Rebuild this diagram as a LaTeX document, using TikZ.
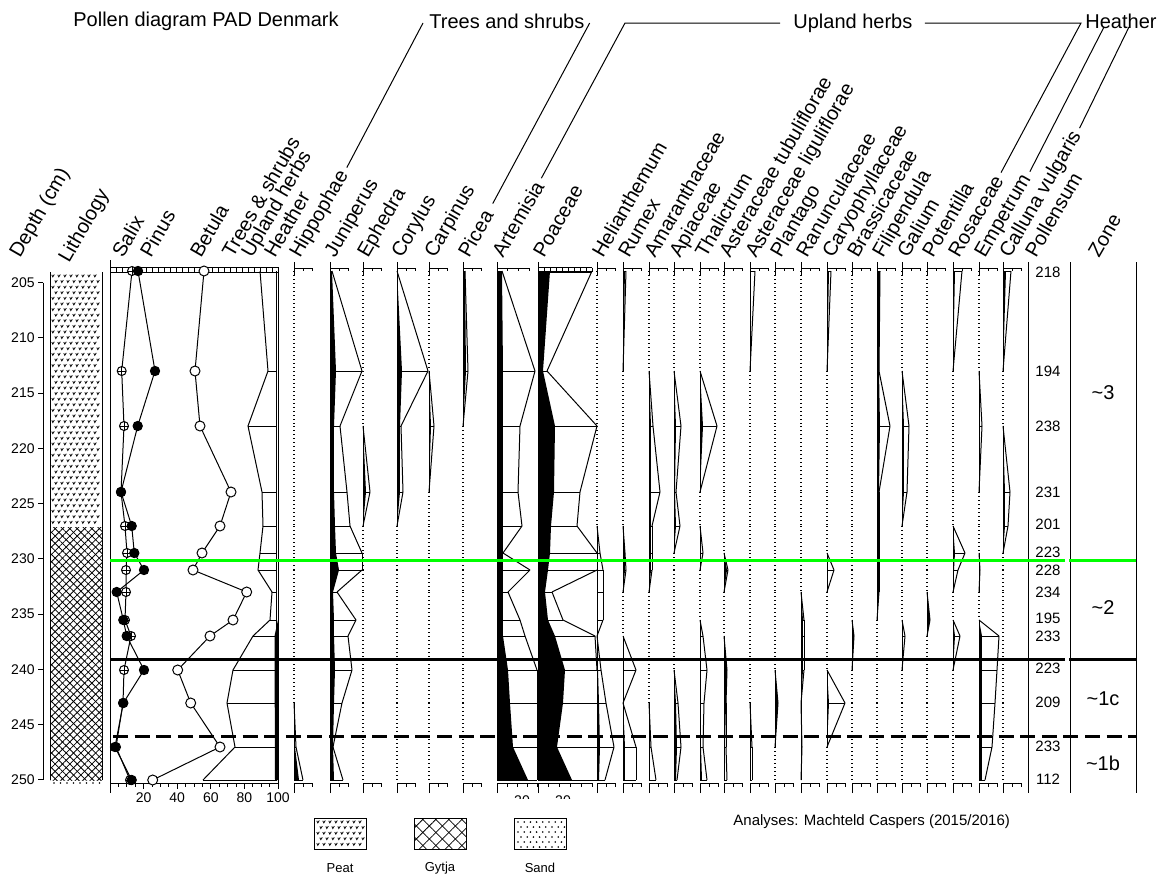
\documentclass[tikz,border=0pt]{standalone}
\usepackage{fontspec}
\setmainfont{Liberation Sans}
\usetikzlibrary{patterns.meta}
\definecolor{zgreen}{RGB}{0,255,0}
\tikzset{
  dl/.style={line width=0.5pt},
  zdots/.style={line width=0.6pt,dash pattern=on 0.5pt off 1.5pt},
  lab/.style={rotate=60,anchor=base west,inner sep=0pt,font=\fontsize{10}{12}\selectfont},
  grp/.style={anchor=west,inner sep=0pt,text height=7.5pt,text depth=2pt,font=\fontsize{10}{12}\selectfont},
  ax/.style={inner sep=0pt,font=\fontsize{7}{8}\selectfont},
  psum/.style={inner sep=0pt,font=\fontsize{7.5}{9}\selectfont},
  zonet/.style={inner sep=0pt,font=\fontsize{10}{12}\selectfont},
  legt/.style={inner sep=0pt,font=\fontsize{6.5}{8}\selectfont},
  zline/.style={line width=1.5pt},
}
\newcommand\taxcol[2]{%
  \foreach \yy/\ff/\ee [remember=\yy as \py (initially -1),
      remember=\ff as \pf (initially 0),
      remember=\ee as \pe (initially 0)] in {#2}{%
    \ifdim\py pt>0pt
      \pgfmathtruncatemacro\nz{10*(\pf+\ff+\pe+\ee)}%
      \ifnum\nz>0
        \fill (#1,\py) -- (#1+\pf,\py) -- (#1+\ff,\yy) -- (#1,\yy) -- cycle;
        \draw[dl] (#1+\pe,\py) -- (#1+\ee,\yy);
        \draw[dl] (#1,\py) -- (#1,\yy);
      \else
        \draw[zdots] (#1,\py) -- (#1,\yy);
      \fi
    \fi
    \ifdim\ee pt>0pt \draw[dl] (#1,\yy) -- (#1+\ee,\yy);\fi
  }}
\newcommand\colhead[3]{%
  \draw[dl] (#1,262) -- (#1,275) (#1,268) -- (#1+#2,268);
  \foreach \k in {1,...,#3}{\draw[dl] ({#1+\k*#2/#3},268) -- ++(0,3);}}
\newcommand\colfoot[3]{%
  \draw[dl] (#1,793) -- (#1,783) -- (#1+#2,783);
  \foreach \k in {1,...,#3}{\draw[dl] ({#1+\k*#2/#3},783) -- ++(0,4);}}
\newcommand\peatmarks[4]{%
  \foreach \r in {0,...,#4}{\foreach \c in {0,...,#3}{%
    \pgfmathsetmacro\mx{#1+\c*6+mod(\r,2)*3}%
    \pgfmathsetmacro\my{#2+\r*5.6}%
    \draw[line width=0.38pt] (\mx-1.2,\my-1.2) -- (\mx-0.2,\my+0.9) -- (\mx+1.3,\my-1.5);
  }}}
\begin{document}
\begin{tikzpicture}[x=0.5pt,y=-0.5pt]
\fill[white] (0,0) rectangle (1158,878);
\useasboundingbox (0,0) rectangle (1158,878);

% ---------- titles ----------
\node[anchor=base west,inner sep=0pt,font=\fontsize{10}{12}\selectfont] (title) at (73,26) {Pollen diagram PAD Denmark};
\node[grp] (ts) at (429,23) {Trees and shrubs};
\node[grp] (uh) at (793,23) {Upland herbs};
\node[grp] (hth) at (1085,23) {Heather};

% ---------- rotated labels ----------
\node[lab] (lDep) at (20,259) {Depth (cm)};
\node[lab] (lLit) at (69,264) {Lithology};
\node[lab] (lSal) at (123,259) {Salix};
\node[lab] (lPin) at (151,259) {Pinus};
\node[lab] (lBet) at (201,259) {Betula};
\node[lab] (lTS) at (233,259) {Trees \& shrubs};
\node[lab] (lUH) at (252,259) {Upland herbs};
\node[lab] (lHe) at (275,259) {Heather};
\node[lab] (lHip) at (300,259) {Hippophae};
\node[lab] (lJun) at (335,259) {Juniperus};
\node[lab] (lEph) at (368,259) {Ephedra};
\node[lab] (lCor) at (402,259) {Corylus};
\node[lab] (lCar) at (435,259) {Carpinus};
\node[lab] (lPic) at (469,259) {Picea};
\node[lab] (lArt) at (503,259) {Artemisia};
\node[lab] (lPoa) at (544,259) {Poaceae};
\node[lab] (lHel) at (603,259) {Helianthemum};
\node[lab] (lRum) at (629,259) {Rumex};
\node[lab] (lAma) at (655,259) {Amaranthaceae};
\node[lab] (lApi) at (680,259) {Apiaceae};
\node[lab] (lTha) at (706,259) {Thalictrum};
\node[lab] (lAtu) at (730,259) {Asteraceae tubuliflorae};
\node[lab] (lAli) at (756,259) {Asteraceae liguliflorae};
\node[lab] (lPla) at (781,259) {Plantago};
\node[lab] (lRan) at (807,259) {Ranunculaceae};
\node[lab] (lCary) at (833,259) {Caryophyllaceae};
\node[lab] (lBra) at (858,259) {Brassicaceae};
\node[lab] (lFil) at (883,259) {Filipendula};
\node[lab] (lGal) at (908,259) {Galium};
\node[lab] (lPot) at (933,259) {Potentilla};
\node[lab] (lRos) at (959,259) {Rosaceae};
\node[lab] (lEmp) at (985,259) {Empetrum};
\node[lab] (lCal) at (1010,259) {Calluna vulgaris};
\node[lab] (lPs) at (1036,259) {Pollensum};
\node[lab] (lZo) at (1099,259) {Zone};

% ---------- group leaders ----------
\coordinate (uL) at (625,23);
\coordinate (uR) at (1081,23);
\coordinate (h1) at (1104,27);
\coordinate (h2) at (1129,27);
\draw[dl] ([shift={(-60:5)}]lHip.east) -- ([xshift=-3pt]ts.west);
\draw[dl] ([shift={(-60:9)}]lPic.east) -- ([xshift=2.5pt]ts.east);
\draw[dl] ([shift={(-60:5)}]lArt.east) -- (uL) -- ([xshift=-6.5pt]uh.west);
\draw[dl] ([xshift=6pt]uh.east) -- (uR) -- ([shift={(-60:5)}]lRos.east);
\draw[dl] (h1) -- ([shift={(-60:5)}]lEmp.east);
\draw[dl] (h2) -- ([shift={(-60:5)}]lCal.east);

% ---------- depth axis ----------
\draw[dl] (43,282.5) -- (43,780);
\foreach \d in {205,210,...,250}{
  \pgfmathsetmacro\dy{282.5+(\d-205)*11.05}
  \draw[dl] (38,\dy) -- (43,\dy);
  \node[ax,anchor=east] (d\d) at (35,\dy) {\d};
}

% ---------- lithology ----------
\peatmarks{53}{276}{7}{44}
\fill[pattern={Lines[angle=45,distance=2.6pt,line width=0.4pt]}] (50,527) rectangle (102,780);
\fill[pattern={Lines[angle=-45,distance=2.6pt,line width=0.4pt]}] (50,527) rectangle (102,780);
\draw[dl] (50,272) -- (50,780) (102,272) -- (102,780);
\foreach \c in {0,...,7}{\fill (54+\c*6.5,783) circle[radius=0.45pt];}

% ---------- main summary plot ----------
\draw[dl] (110,260) -- (110,793);
\draw[dl] (278,267) -- (278,783);
\draw[dl] (110,267.5) -- (278,267.5) (110,272) -- (278,272);
\foreach \i in {0,...,28}{\draw[dl] ({110+6*\i},267.5) -- ++(0,4.5);}
\draw[dl] (110,783) -- (278,783);
\foreach \p in {5,10,...,100}{\draw[dl] ({110+1.68*\p},783) -- ++(0,4);}
\foreach \p in {20,40,60,80,100}{
  \draw[dl] ({110+1.68*\p},783) -- ++(0,6);
  \node[ax] (ax\p) at ({110+1.68*\p},798) {\p};}
\fill (278,620) -- (274.5,636) -- (275,780) -- (278,780) -- cycle;
\draw[dl] (276.5,271) -- (276.5,780);
\draw[dl] (260,271) -- (268,371) -- (248,426) -- (262,492) -- (263,526) -- (260,553) -- (258,570) -- (272,592) -- (270,620) -- (253,636) -- (233,670) -- (227,703) -- (235,747) -- (203,780);
\foreach \yy/\xx in {371/268,426/248,492/262,526/263,553/260,570/258,592/272,620/270,636/253,670/233,703/227,747/235,780/203}{
  \draw[dl] (\xx,\yy) -- (277,\yy);}
\draw[dl] (132,271) -- (121.7,371) -- (124,426) -- (121,492) -- (125,526) -- (127,553) -- (126,570) -- (126,592) -- (125,620) -- (131,636) -- (124,670) -- (123,703) -- (116,747) -- (130,780);
\draw[dl] (138,271) -- (155,371) -- (137.7,426) -- (121,492) -- (131.7,526) -- (134.3,553) -- (144,570) -- (116.7,592) -- (123.3,620) -- (126.7,636) -- (144,670) -- (123.3,703) -- (115,747) -- (131.7,780);
\draw[dl] (204,271) -- (195,371) -- (200,426) -- (231,492) -- (220,526) -- (202,553) -- (193,570) -- (246.7,592) -- (233,620) -- (210,636) -- (177.7,670) -- (190.7,703) -- (220,747) -- (152.7,780);
\foreach \yy/\xx in {271/132,371/121.7,426/124,492/121,526/125,553/127,570/126,592/126,620/125,636/131,670/124,703/123,747/116,780/130}{
  \draw[dl,fill=white] (\xx,\yy) circle[radius=2.25pt];
  \draw[dl] (\xx-4.5,\yy) -- (\xx+4.5,\yy) (\xx,\yy-4.5) -- (\xx,\yy+4.5);}
\foreach \yy/\xx in {271/204,371/195,426/200,492/231,526/220,553/202,570/193,592/246.7,620/233,636/210,670/177.7,703/190.7,747/220,780/152.7}{
  \draw[dl,fill=white] (\xx,\yy) circle[radius=2.5pt];}
\foreach \yy/\xx in {271/138,371/155,426/137.7,492/121,526/131.7,553/134.3,570/144,592/116.7,620/123.3,636/126.7,670/144,703/123.3,747/115,780/131.7}{
  \fill (\xx,\yy) circle[radius=2.6pt];}

% ---------- taxon columns ----------
\foreach \x in {294,330,363,397,429,463,597,623,649,674,700,724,750,775,801,827,852,877,902,927,953,979,1003}{
  \colhead{\x}{18}{2}
  \colfoot{\x}{18}{2}}
\colhead{497}{32}{3}
\colfoot{497}{40}{4}
\draw[dl] (538,262) -- (538,275) (538,267.5) -- (592,267.5) (538,272) -- (592,272);
\foreach \i in {0,...,9}{\draw[dl] ({538+6*\i},267.5) -- ++(0,4.5);}
\colfoot{538}{54}{5}
\begin{scope}
  \clip (500,790) rectangle (600,798);
  \node[ax] (t20a) at (522,801) {20};
  \node[ax] (t20b) at (563,801) {20};
\end{scope}

\taxcol{294}{271/0/0,371/0/0,426/0/0,492/0/0,526/0/0,553/0/0,570/0/0,592/0/0,620/0/0,636/0/0,670/0/0,703/0/0,747/1/2,780/5/9}
\taxcol{330}{271/2/2,371/6/32,426/4/10,492/4/17,526/5/20,553/6/32,570/9/32,592/3/7,620/4/26,636/4/18,670/5/22,703/4/12,747/3/3,780/4/13}
\taxcol{363}{271/0/0,371/0/0,426/0/0,492/3/7,526/0/0,553/0/0,570/0/0,592/0/0,620/0/0,636/0/0,670/0/0,703/0/0,747/0/0,780/0/0}
\taxcol{397}{271/0/0,371/5/31,426/3/4,492/3/6,526/0/0,553/0/0,570/0/0,592/0/0,620/0/0,636/0/0,670/0/0,703/0/0,747/0/0,780/0/0}
\taxcol{429}{271/0/0,371/0/0,426/2/5,492/0/0,526/0/0,553/0/0,570/0/0,592/0/0,620/0/0,636/0/0,670/0/0,703/0/0,747/0/0,780/0/0}
\taxcol{463}{271/2/2,371/3/5,426/0/0,492/0/0,526/0/0,553/0/0,570/0/0,592/0/0,620/0/0,636/0/0,670/0/0,703/0/0,747/0/0,780/0/0}
\taxcol{497}{271/5/5,371/6/38,426/6/23,492/6/21,526/6/25,553/6/6,570/6/33,592/6/11,620/6/23,636/6/28,670/11/40,703/13/40,747/16/40,780/31/40}
\taxcol{538}{271/12/54,371/5/9,426/17/59,492/16/42,526/13/39,553/12/59,570/10/59,592/7/14,620/10/25,636/17/57,670/27/59,703/25/59,747/19/59,780/34/59}
\taxcol{597}{271/0/0,371/0/0,426/0/0,492/0/0,526/0/0,553/1/3,570/1/6,592/1/6,620/1/6,636/0/0,670/1/4,703/2/9,747/3/17,780/2/8}
\taxcol{623}{271/2/3,371/0/0,426/0/0,492/0/0,526/0/0,553/2/2,570/2/3,592/0/0,620/0/0,636/0/0,670/1/13,703/0/0,747/2/13,780/2/13}
\taxcol{649}{271/0/0,371/0/0,426/2/4,492/2/11,526/2/3,553/2/3,570/2/3,592/0/0,620/0/0,636/0/0,670/0/0,703/0/0,747/1/2,780/1/7}
\taxcol{674}{271/0/0,371/0/0,426/2/7,492/1/2,526/2/6,553/0/0,570/0/0,592/0/0,620/0/0,636/0/0,670/0/0,703/2/4,747/3/7,780/2/3}
\taxcol{700}{271/0/0,371/0/0,426/3/17,492/0/0,526/0/0,553/1/3,570/0/0,592/0/0,620/0/0,636/1/3,670/1/7,703/1/4,747/1/3,780/2/7}
\taxcol{724}{271/0/0,371/0/0,426/0/0,492/0/0,526/0/0,553/0/0,570/3/4,592/0/0,620/0/0,636/0/0,670/3/3,703/2/2,747/1/2,780/1/3}
\taxcol{750}{271/1/5,371/0/0,426/0/0,492/0/0,526/0/0,553/0/0,570/0/0,592/0/0,620/0/0,636/0/0,670/0/0,703/0/0,747/1/2,780/1/2}
\taxcol{775}{271/0/0,371/0/0,426/0/0,492/0/0,526/0/0,553/0/0,570/0/0,592/0/0,620/0/0,636/0/0,670/0/0,703/3/3,747/0/0,780/0/0}
\taxcol{801}{271/0/0,371/0/0,426/0/0,492/0/0,526/0/0,553/0/0,570/0/0,592/0/0,620/2/3,636/2/3,670/2/3,703/0/0,747/1/1,780/0/0}
\taxcol{827}{271/2/4,371/0/0,426/0/0,492/0/0,526/0/0,553/0/0,570/1/7,592/0/0,620/0/0,636/0/0,670/0/0,703/2/18,747/0/0,780/0/0}
\taxcol{852}{271/0/0,371/0/0,426/0/0,492/0/0,526/0/0,553/0/0,570/0/0,592/0/0,620/0/0,636/2/2,670/0/0,703/0/0,747/0/0,780/0/0}
\taxcol{877}{271/3/3,371/2/2,426/3/13,492/2/2,526/2/2,553/2/2,570/2/2,592/2/2,620/0/0,636/0/0,670/0/0,703/0/0,747/0/0,780/0/0}
\taxcol{902}{271/0/0,371/0/0,426/2/7,492/2/5,526/0/0,553/0/0,570/0/0,592/0/0,620/0/0,636/1/3,670/0/0,703/0/0,747/0/0,780/0/0}
\taxcol{927}{271/0/0,371/0/0,426/0/0,492/0/0,526/0/0,553/0/0,570/0/0,592/0/0,620/3/3,636/0/0,670/0/0,703/0/0,747/0/0,780/0/0}
\taxcol{953}{271/2/9,371/0/0,426/0/0,492/0/0,526/0/0,553/2/12,570/1/5,592/0/0,620/0/0,636/2/7,670/0/0,703/0/0,747/0/0,780/0/0}
\taxcol{979}{271/0/0,371/0/0,426/1/3,492/0/0,526/0/0,553/0/0,570/1/1,592/0/0,620/0/0,636/3/20,670/3/18,703/3/16,747/3/13,780/3/6}
\taxcol{1003}{271/3/8,371/0/0,426/0/0,492/2/7,526/2/5,553/0/0,570/0/0,592/0/0,620/0/0,636/0/0,670/0/0,703/0/0,747/0/0,780/0/0}

% ---------- pollensum & zone columns ----------
\draw[dl] (1028,262) -- (1028,793) (1070,262) -- (1070,793) (1136,262) -- (1136,793);
\foreach \yy/\v [count=\i] in {272/218,371/194,426/238,492/231,524/201,552/223,570/228,592/234,618/195,636/233,668/223,702/209,746/233,779/112}{
  \node[psum] (ps\i) at (1048,\yy) {\v};}
\node[zonet] (z3) at (1103,393) {\textasciitilde 3};
\node[zonet] (z2) at (1103,608) {\textasciitilde 2};
\node[zonet] (z1c) at (1103,699) {\textasciitilde 1c};
\node[zonet] (z1b) at (1103,763) {\textasciitilde 1b};

% ---------- zone boundaries ----------
\draw[zline,zgreen] (110,560) -- (1065,560) (1069,560) -- (1136,560);
\draw[zline] (110,659) -- (1065,659) (1069,659) -- (1136,659);
\draw[zline,dash pattern=on 7.5pt off 3.3pt] (113,736.5) -- (1136,736.5);

% ---------- legend ----------
\peatmarks{318}{822}{7}{4}
\draw[dl] (314,818) rectangle (366,849);
\fill[pattern={Lines[angle=45,distance=4.6pt,line width=0.4pt]}] (414,818) rectangle (466,849);
\fill[pattern={Lines[angle=-45,distance=4.6pt,line width=0.4pt]}] (414,818) rectangle (466,849);
\draw[dl] (414,818) rectangle (466,849);
\foreach \r in {0,...,5}{\foreach \c in {0,...,7}{%
  \fill ({518+\c*6.2+mod(\r,2)*3},{822+\r*5}) circle[radius=0.45pt];}}
\draw[dl] (514,818) rectangle (566,849);
\node[legt] (lgP) at (340,868) {Peat};
\node[legt] (lgG) at (440,868) {Gytja};
\node[legt] (lgS) at (540,868) {Sand};
\node[anchor=west,inner sep=0pt,font=\fontsize{7.5}{9}\selectfont] (ana) at (733,822) {Analyses: Machteld Caspers (2015/2016)};
\end{tikzpicture}
\end{document}
